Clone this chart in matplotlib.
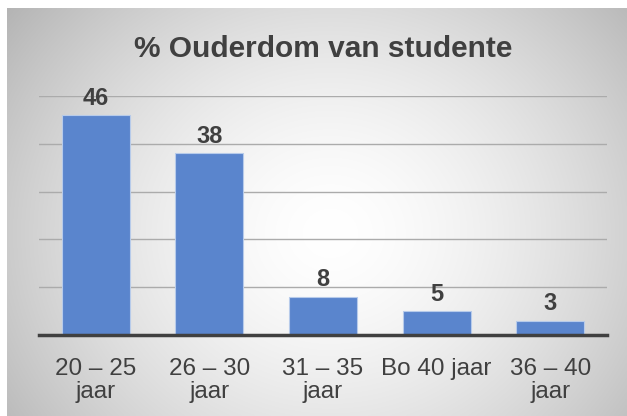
import numpy as np
import matplotlib
matplotlib.use("Agg")
import matplotlib.pyplot as plt

categories = ["20 – 25\njaar", "26 – 30\njaar", "31 – 35\njaar", "Bo 40 jaar", "36 – 40\njaar"]
values = [46, 38, 8, 5, 3]
title = "% Ouderdom van studente"

plt.rcParams['font.family'] = ['Liberation Sans', 'DejaVu Sans']

W, H = 627, 416
fig = plt.figure(figsize=(W / 100, H / 100), dpi=100)
fig.patch.set_facecolor('white')

# background panel with radial gradient
bg = fig.add_axes([7 / W, 0, (W - 7) / W, (H - 8) / H])
bg.set_axis_off()
ny, nx = 200, 300
yy, xx = np.mgrid[0:ny, 0:nx]
cx, cy = nx * 0.52, ny * 0.55
r = np.sqrt(((xx - cx) / (nx * 0.55)) ** 2 + ((yy - cy) / (ny * 0.75)) ** 2)
g = 1.0 - 0.22 * np.clip(r, 0, 1.2) ** 1.6
img = np.dstack([g, g, g])
bg.imshow(img, aspect='auto', extent=[0, 1, 0, 1], interpolation='bilinear')
bg.set_xlim(0, 1)
bg.set_ylim(0, 1)

ax = fig.add_axes([39 / W, 81 / H, 568 / W, 239 / H])
ax.patch.set_alpha(0)
x = np.arange(len(categories))
bars = ax.bar(x, values, width=0.6, color='#5a85cd', edgecolor='#b7cbea', linewidth=0.8, zorder=3)
ax.set_xlim(-0.5, len(categories) - 0.5)
ax.set_ylim(0, 50)
ax.set_yticks([10, 20, 30, 40, 50])
ax.yaxis.grid(True, color='#ababab', linewidth=1.0, zorder=1)
ax.tick_params(axis='y', left=False, labelleft=False)
ax.tick_params(axis='x', bottom=False, pad=13, labelsize=17.5, labelcolor='#404040')
ax.set_xticks(x)
ax.set_xticklabels(categories, linespacing=1.05)
for s in ['top', 'right', 'left']:
    ax.spines[s].set_visible(False)
ax.spines['bottom'].set_color('#404040')
ax.spines['bottom'].set_linewidth(2.5)
ax.spines['bottom'].set_zorder(4)

for xi, v in zip(x, values):
    ax.annotate(str(v), (xi, v), xytext=(0, 4), textcoords='offset points',
                ha='center', va='bottom', fontsize=17, fontweight='bold', color='#404040')

fig.text(323 / W, 1 - 57 / H, title, ha='center', va='baseline', fontsize=21.5,
         fontweight='bold', color='#404040')

fig.savefig('out.png', dpi=100)
